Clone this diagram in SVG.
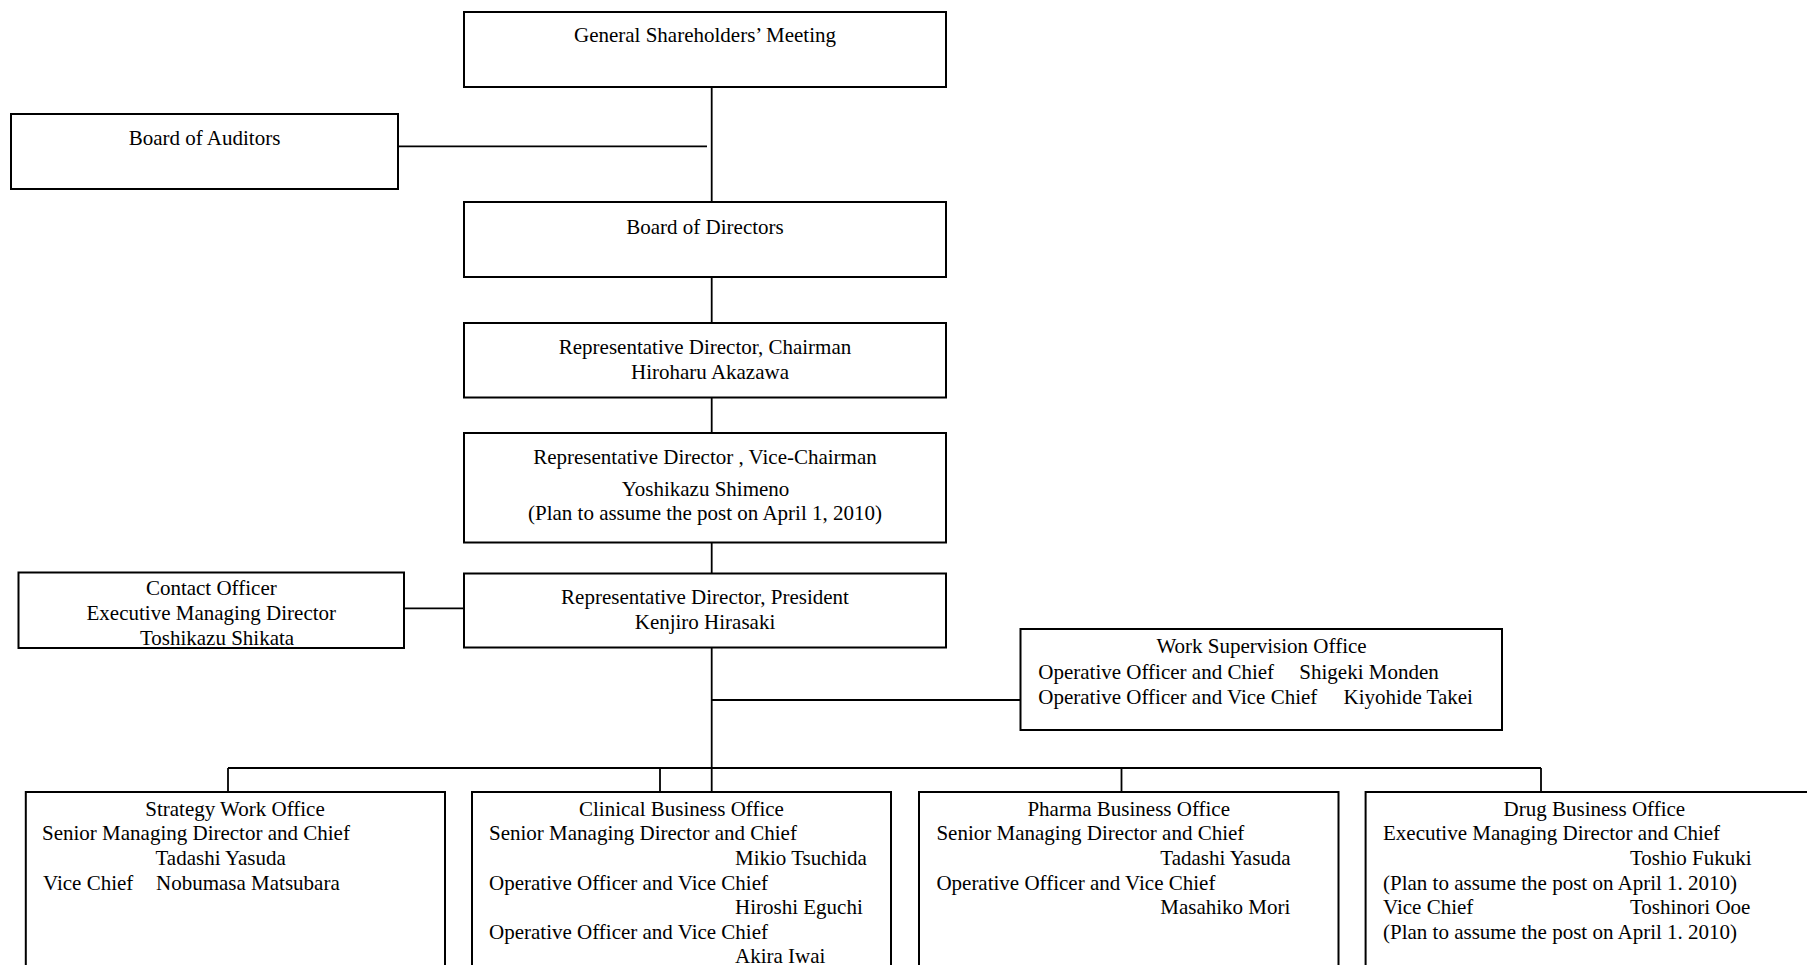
<svg xmlns="http://www.w3.org/2000/svg" width="1807" height="965" viewBox="0 0 1807 965">
<style>
.box{fill:#fff;stroke:#000;stroke-width:2}
.ln{stroke:#000;stroke-width:1.8;fill:none}
text{font-family:"Liberation Serif","Times New Roman",serif;font-size:21px;fill:#000}
.c{text-anchor:middle}
</style>
<rect width="1807" height="965" fill="#fff"/>
<g id="connectors">
<line class="ln" x1="711.7" y1="87" x2="711.7" y2="202"/>
<line class="ln" x1="398" y1="146.3" x2="707" y2="146.3"/>
<line class="ln" x1="711.7" y1="277" x2="711.7" y2="323"/>
<line class="ln" x1="711.7" y1="397.5" x2="711.7" y2="433"/>
<line class="ln" x1="711.7" y1="542.5" x2="711.7" y2="573.5"/>
<line class="ln" x1="711.7" y1="647.5" x2="711.7" y2="792"/>
<line class="ln" x1="404" y1="608.3" x2="464" y2="608.3"/>
<line class="ln" x1="711.7" y1="700" x2="1020.5" y2="700"/>
<line class="ln" x1="228" y1="768" x2="1541" y2="768"/>
<line class="ln" x1="228" y1="768" x2="228" y2="792"/>
<line class="ln" x1="660" y1="768" x2="660" y2="792"/>
<line class="ln" x1="1121.5" y1="768" x2="1121.5" y2="792"/>
<line class="ln" x1="1541" y1="768" x2="1541" y2="792"/>
</g>
<g id="gsm">
<rect class="box" x="464" y="12" width="482" height="75"/>
<text class="c" x="705" y="42">General Shareholders’ Meeting</text>
</g>
<g id="auditors">
<rect class="box" x="11" y="114" width="387" height="75"/>
<text class="c" x="204.5" y="145">Board of Auditors</text>
</g>
<g id="directors">
<rect class="box" x="464" y="202" width="482" height="75"/>
<text class="c" x="705" y="233.7">Board of Directors</text>
</g>
<g id="chairman">
<rect class="box" x="464" y="323" width="482" height="74.5"/>
<text class="c" x="705" y="353.7">Representative Director, Chairman</text>
<text class="c" x="710" y="378.7">Hiroharu Akazawa</text>
</g>
<g id="vicechairman">
<rect class="box" x="464" y="433" width="482" height="109.5"/>
<text class="c" x="705" y="463.7">Representative Director , Vice-Chairman</text>
<text class="c" x="705.5" y="496">Yoshikazu Shimeno</text>
<text class="c" x="705" y="520.3">(Plan to assume the post on April 1, 2010)</text>
</g>
<g id="president">
<rect class="box" x="464" y="573.5" width="482" height="74"/>
<text class="c" x="705" y="603.7">Representative Director, President</text>
<text class="c" x="705" y="628.7">Kenjiro Hirasaki</text>
</g>
<g id="contact">
<rect class="box" x="18.5" y="572.5" width="385.5" height="75.5"/>
<text class="c" x="211.3" y="595.3">Contact Officer</text>
<text class="c" x="211.3" y="620.3">Executive Managing Director</text>
<text class="c" x="217" y="644.7">Toshikazu Shikata</text>
</g>
<g id="worksupervision">
<rect class="box" x="1020.5" y="629" width="481.5" height="101"/>
<text class="c" x="1261.5" y="653">Work Supervision Office</text>
<text x="1038.3" y="678.7">Operative Officer and Chief<tspan x="1299.3">Shigeki Monden</tspan></text>
<text x="1038.3" y="703.7">Operative Officer and Vice Chief<tspan x="1343.6">Kiyohide Takei</tspan></text>
</g>
<g id="strategy">
<rect class="box" x="25.8" y="792" width="419.2" height="200"/>
<text class="c" x="235" y="816">Strategy Work Office</text>
<text x="42" y="840.3">Senior Managing Director and Chief</text>
<text x="155.5" y="865.3">Tadashi Yasuda</text>
<text x="43" y="890.3">Vice Chief<tspan x="156">Nobumasa Matsubara</tspan></text>
</g>
<g id="clinical">
<rect class="box" x="472" y="792" width="419" height="200"/>
<text class="c" x="681.5" y="816">Clinical Business Office</text>
<text x="489" y="840.3">Senior Managing Director and Chief</text>
<text x="735" y="865.3">Mikio Tsuchida</text>
<text x="489" y="890.3">Operative Officer and Vice Chief</text>
<text x="735" y="913.7">Hiroshi Eguchi</text>
<text x="489" y="938.7">Operative Officer and Vice Chief</text>
<text x="735" y="963">Akira Iwai</text>
</g>
<g id="pharma">
<rect class="box" x="919" y="792" width="419.5" height="200"/>
<text class="c" x="1128.7" y="816">Pharma Business Office</text>
<text x="936.4" y="840.3">Senior Managing Director and Chief</text>
<text x="1160.3" y="865.3">Tadashi Yasuda</text>
<text x="936.4" y="890.3">Operative Officer and Vice Chief</text>
<text x="1160.3" y="913.7">Masahiko Mori</text>
</g>
<g id="drug">
<rect class="box" x="1365.6" y="792" width="460" height="200"/>
<text class="c" x="1594.4" y="816">Drug Business Office</text>
<text x="1383" y="840.3">Executive Managing Director and Chief</text>
<text x="1630" y="865.3">Toshio Fukuki</text>
<text x="1383" y="890.3">(Plan to assume the post on April 1. 2010)</text>
<text x="1383" y="913.7">Vice Chief<tspan x="1630">Toshinori Ooe</tspan></text>
<text x="1383" y="938.7">(Plan to assume the post on April 1. 2010)</text>
</g>
</svg>
